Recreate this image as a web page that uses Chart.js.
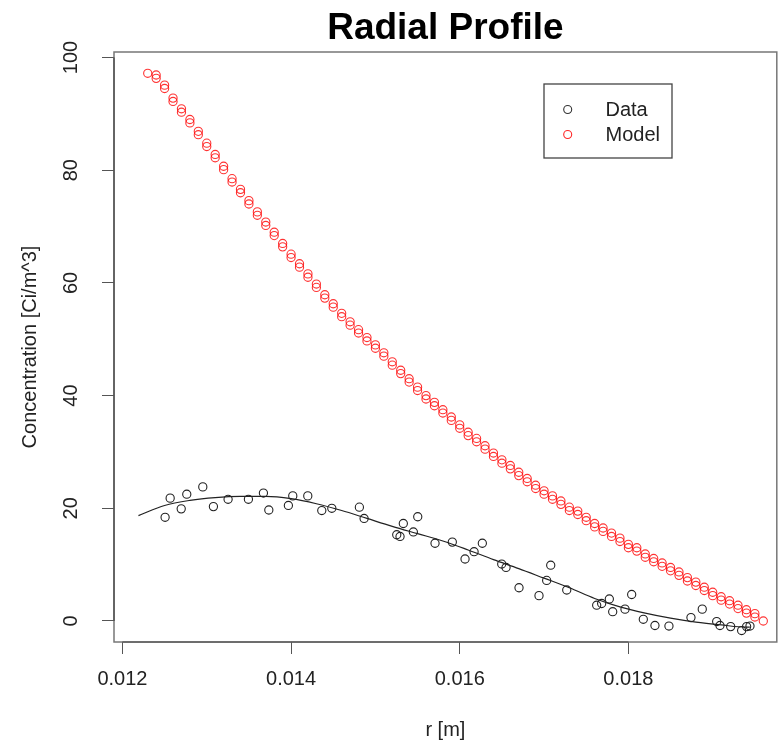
<!DOCTYPE html>
<html>
<head>
<meta charset="utf-8">
<title>Radial Profile</title>
<script src="https://cdn.jsdelivr.net/npm/chart.js@4.4.1/dist/chart.umd.min.js"></script>
<style>
  html, body { margin: 0; padding: 0; background: #fff; }
  #wrap { width: 782px; height: 742px; }
</style>
</head>
<body>
<div id="wrap"><canvas id="grafico" width="782" height="742"></canvas></div>
<script>
// Measured data points (r in metres, concentration in Ci/m^3)
const dataR = [
  0.012506, 0.012566, 0.012697, 0.012763, 0.012953, 0.013079, 0.013253, 0.013494,
  0.013672, 0.013736, 0.013968, 0.014020, 0.014198, 0.014364, 0.014483, 0.014810,
  0.014866, 0.015253, 0.015292, 0.015331, 0.015450, 0.015502, 0.015707, 0.015912,
  0.016063, 0.016170, 0.016268, 0.016498, 0.016549, 0.016703, 0.016940, 0.017031,
  0.017079, 0.017269, 0.017624, 0.017683, 0.017774, 0.017814, 0.017960, 0.018039,
  0.018177, 0.018315, 0.018481, 0.018742, 0.018876, 0.019047, 0.019086, 0.019213,
  0.019343, 0.019402, 0.019442
];
const dataC = [
  18.4, 21.8, 19.9, 22.5, 23.8, 20.3, 21.6, 21.6,
  22.7, 19.7, 20.5, 22.2, 22.2, 19.6, 20.0, 20.2,
  18.2, 15.3, 15.0, 17.3, 15.8, 18.5, 13.8, 14.0,
  11.0, 12.3, 13.8, 10.1, 9.5, 5.9, 4.5, 7.2,
  9.9, 5.5, 2.8, 3.1, 3.9, 1.65, 2.1, 4.7,
  0.3, -0.8, -0.9, 0.6, 2.1, -0.1, -0.8, -1.0,
  -1.7, -1.0, -0.9
];

// Smooth fit through the data (black line)
const fitR = [
  0.01219, 0.0125, 0.0128, 0.0131, 0.0134, 0.0137, 0.0140, 0.0143, 0.0146,
  0.0149, 0.0152, 0.0155, 0.0158, 0.0161, 0.0164, 0.0167, 0.0170, 0.0173,
  0.0176, 0.0179, 0.0182, 0.0185, 0.0188, 0.0191, 0.0194, 0.01944
];
const fitC = [
  18.7, 20.5, 21.4, 21.9, 22.1, 22.1, 21.7, 20.8, 19.6,
  18.2, 16.8, 15.5, 14.2, 12.6, 10.9, 9.3, 7.6, 5.9,
  4.0, 2.5, 1.4, 0.5, -0.2, -0.7, -1.1, -1.1
];

// Model values: one column per r, two stacked circles in most columns
const modelR = [
  0.0123, 0.0124, 0.0125, 0.0126, 0.0127, 0.0128, 0.0129, 0.0130, 0.0131, 0.0132,
  0.0133, 0.0134, 0.0135, 0.0136, 0.0137, 0.0138, 0.0139, 0.0140, 0.0141, 0.0142,
  0.0143, 0.0144, 0.0145, 0.0146, 0.0147, 0.0148, 0.0149, 0.0150, 0.0151, 0.0152,
  0.0153, 0.0154, 0.0155, 0.0156, 0.0157, 0.0158, 0.0159, 0.0160, 0.0161, 0.0162,
  0.0163, 0.0164, 0.0165, 0.0166, 0.0167, 0.0168, 0.0169, 0.0170, 0.0171, 0.0172,
  0.0173, 0.0174, 0.0175, 0.0176, 0.0177, 0.0178, 0.0179, 0.0180, 0.0181, 0.0182,
  0.0183, 0.0184, 0.0185, 0.0186, 0.0187, 0.0188, 0.0189, 0.0190, 0.0191, 0.0192,
  0.0193, 0.0194, 0.0195, 0.0196
];
const modelUpper = [
  97.2, 96.9, 95.1, 92.8, 90.9, 89.0, 86.9, 84.8, 82.8, 80.7,
  78.5, 76.6, 74.6, 72.6, 70.8, 69.0, 67.0, 65.1, 63.4, 61.6,
  59.8, 57.9, 56.3, 54.6, 53.1, 51.7, 50.3, 49.0, 47.6, 46.0,
  44.5, 43.0, 41.5, 40.0, 38.8, 37.5, 36.2, 34.8, 33.5, 32.4,
  31.1, 29.8, 28.6, 27.6, 26.4, 25.3, 24.1, 23.1, 22.2, 21.3,
  20.2, 19.5, 18.4, 17.3, 16.5, 15.6, 14.7, 13.6, 13.0, 11.9,
  11.1, 10.3, 9.5, 8.7, 7.7, 6.9, 6.0, 5.1, 4.3, 3.6,
  2.8, 2.0, 1.3, 0.0
];
const modelLower = [
  null, 96.3, 94.5, 92.2, 90.3, 88.4, 86.3, 84.2, 82.2, 80.1,
  77.9, 76.0, 74.0, 72.0, 70.2, 68.4, 66.4, 64.5, 62.8, 61.0,
  59.2, 57.3, 55.7, 54.0, 52.5, 51.1, 49.7, 48.4, 47.0, 45.4,
  43.9, 42.4, 40.9, 39.4, 38.2, 36.9, 35.6, 34.2, 32.9, 31.8,
  30.5, 29.2, 28.0, 27.0, 25.8, 24.7, 23.5, 22.5, 21.6, 20.7,
  19.6, 18.9, 17.8, 16.7, 15.9, 15.0, 14.1, 13.0, 12.4, 11.3,
  10.5, 9.7, 8.9, 8.1, 7.1, 6.3, 5.4, 4.5, 3.7, 3.0,
  2.2, 1.4, 0.7, null
];

// Axis ticks
const xTicks = [0.012, 0.014, 0.016, 0.018];
const yTicks = [0, 20, 40, 60, 80, 100];

const fonte = '"Liberation Sans", Arial, sans-serif';

// Build point lists for the library
const pontosData = dataR.map((r, i) => ({ x: r, y: dataC[i] }));
const pontosFit = fitR.map((r, i) => ({ x: r, y: fitC[i] }));
const pontosModel = [];
modelR.forEach((r, i) => {
  pontosModel.push({ x: r, y: modelUpper[i] });
  if (modelLower[i] !== null) pontosModel.push({ x: r, y: modelLower[i] });
});

// Box, title and legend drawn like R's base graphics
const molduraPlugin = {
  id: 'moldura',
  afterDraw(chart) {
    const { ctx, chartArea: a, scales } = chart;
    ctx.save();

    // plot box
    ctx.strokeStyle = '#777';
    ctx.lineWidth = 1.5;
    ctx.strokeRect(a.left, a.top, a.right - a.left, a.bottom - a.top);

    // axis lines between first and last tick
    ctx.strokeStyle = '#444';
    ctx.lineWidth = 1.2;
    ctx.beginPath();
    ctx.moveTo(a.left, scales.y.getPixelForValue(yTicks[0]));
    ctx.lineTo(a.left, scales.y.getPixelForValue(yTicks[yTicks.length - 1]));
    ctx.moveTo(scales.x.getPixelForValue(xTicks[0]), a.bottom);
    ctx.lineTo(scales.x.getPixelForValue(xTicks[xTicks.length - 1]), a.bottom);
    ctx.stroke();

    // title
    ctx.fillStyle = '#000';
    ctx.font = 'bold 37px ' + fonte;
    ctx.textAlign = 'center';
    ctx.textBaseline = 'alphabetic';
    ctx.fillText('Radial Profile', (a.left + a.right) / 2, 39);

    // legend
    ctx.fillStyle = '#fff';
    ctx.fillRect(544, 84, 128, 74);
    ctx.strokeStyle = '#444';
    ctx.lineWidth = 1.3;
    ctx.strokeRect(544, 84, 128, 74);
    const itens = [
      { nome: 'Data', cor: '#333', y: 109.5 },
      { nome: 'Model', cor: 'rgba(255,0,0,0.85)', y: 134.5 }
    ];
    itens.forEach(it => {
      ctx.beginPath();
      ctx.arc(567.7, it.y, 4, 0, Math.PI * 2);
      ctx.strokeStyle = it.cor;
      ctx.lineWidth = 1.1;
      ctx.stroke();
      ctx.fillStyle = '#222';
      ctx.font = '20px ' + fonte;
      ctx.textAlign = 'left';
      ctx.textBaseline = 'middle';
      ctx.fillText(it.nome, 605.5, it.y + 1);
    });

    ctx.restore();
  }
};

const ctx = document.getElementById('grafico').getContext('2d');
new Chart(ctx, {
  type: 'scatter',
  data: {
    datasets: [
      {
        label: 'Model',
        data: pontosModel,
        showLine: false,
        pointStyle: 'circle',
        pointRadius: 4.1,
        pointBorderWidth: 1.1,
        pointBackgroundColor: 'rgba(0,0,0,0)',
        pointBorderColor: 'rgba(255,0,0,0.8)'
      },
      {
        label: 'Data',
        data: pontosData,
        showLine: false,
        pointStyle: 'circle',
        pointRadius: 4.1,
        pointBorderWidth: 1.1,
        pointBackgroundColor: 'rgba(0,0,0,0)',
        pointBorderColor: '#222'
      },
      {
        label: 'Fit',
        data: pontosFit,
        showLine: true,
        pointRadius: 0,
        borderColor: '#222',
        borderWidth: 1.2,
        cubicInterpolationMode: 'monotone',
        fill: false
      }
    ]
  },
  options: {
    responsive: false,
    animation: false,
    devicePixelRatio: 1,
    layout: { padding: { top: 52, right: 5, bottom: 0, left: 0 } },
    plugins: {
      legend: { display: false },
      title: { display: false },
      tooltip: { enabled: false }
    },
    scales: {
      x: {
        type: 'linear',
        min: 0.0119,
        max: 0.01976,
        afterBuildTicks(scale) { scale.ticks = xTicks.map(v => ({ value: v })); },
        afterFit(scale) { scale.height = 100; },
        grid: { drawOnChartArea: false, drawTicks: true, tickLength: 12, color: '#555', lineWidth: 1 },
        border: { display: false },
        ticks: {
          callback: v => v.toFixed(3),
          font: { family: fonte, size: 20 },
          color: '#222',
          padding: 13,
          maxRotation: 0
        },
        title: {
          display: true,
          text: 'r [m]',
          font: { family: fonte, size: 20 },
          color: '#222',
          padding: { top: 0, bottom: 0 }
        }
      },
      y: {
        type: 'linear',
        min: -3.73,
        max: 100.98,
        afterBuildTicks(scale) { scale.ticks = yTicks.map(v => ({ value: v })); },
        afterFit(scale) { scale.width = 114; },
        grid: { drawOnChartArea: false, drawTicks: true, tickLength: 12, color: '#555', lineWidth: 1 },
        border: { display: false },
        ticks: {
          font: { family: fonte, size: 20 },
          color: '#222',
          minRotation: 90,
          maxRotation: 90,
          crossAlign: 'center',
          padding: 14
        },
        title: {
          display: true,
          text: 'Concentration [Ci/m^3]',
          font: { family: fonte, size: 20 },
          color: '#222',
          padding: { top: 18, bottom: 0 }
        }
      }
    }
  },
  plugins: [molduraPlugin]
});
</script>
</body>
</html>
